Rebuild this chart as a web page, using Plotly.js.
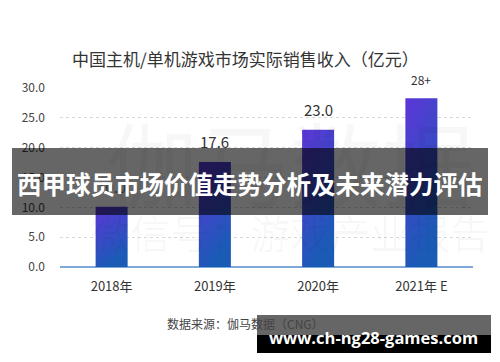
<!DOCTYPE html>
<html>
<head>
<meta charset="utf-8">
<script src="https://cdn.plot.ly/plotly-3.0.1.min.js"></script>
<style>
html,body{margin:0;padding:0;background:#fff;}
#chart{width:500px;height:362px;}
</style>
</head>
<body>
<div id="chart"></div>
<script>
var categories = ["2018年", "2019年", "2020年", "2021年 E"];
var values = [10.1, 17.6, 23.0, 28.3];
var valueLabels = ["10.0", "17.6", "23.0", "28+"];
var labelSizes = [15, 15, 15, 12];
var yTicks = [0, 5, 10, 15, 20, 25, 30];
var yTickText = ["0.0", "5.0", "10.0", "15.0", "20.0", "25.0", "30.0"];

var FONT = '"Noto Sans CJK SC", "Noto Sans", sans-serif';

var trace = {
  type: 'bar',
  x: categories,
  y: values,
  marker: {color: '#3f48c8', line: {width: 0}},
  hoverinfo: 'none'
};

var annotations = categories.map(function (c, i) {
  return {
    x: c, y: values[i], xref: 'x', yref: 'y',
    text: valueLabels[i], showarrow: false,
    xanchor: 'center', yanchor: 'bottom', yshift: 8,
    font: {family: FONT, size: labelSizes[i], color: '#333'}
  };
});

var L = 60, R = 27, T = 88, B = 95, W = 500, H = 362;
var pw = W - L - R, ph = H - T - B;
function px(x) { return (x - L) / pw; }
function py(y) { return (H - B - y) / ph; }

function paperText(x, y, text, font) {
  return {
    xref: 'paper', yref: 'paper', x: px(x), y: py(y), text: text,
    showarrow: false, xanchor: 'center', yanchor: 'middle', font: font
  };
}

// faint background watermark
annotations.push(paperText(290, 160, '伽马数据', {family: FONT, size: 92, color: 'rgba(0,0,0,0.03)'}));
annotations.push(paperText(290, 232, '微信号：游戏产业报告', {family: FONT, size: 40, color: 'rgba(0,0,0,0.03)'}));
// title
annotations.push(paperText(245, 58, '中国主机/单机游戏市场实际销售收入（亿元）', {family: FONT, size: 17, color: '#333'}));
// source
annotations.push(paperText(245, 323, '数据来源：伽马数据（CNG）', {family: FONT, size: 12, color: '#444'}));
// banner text
annotations.push(paperText(250, 183, '<b>西甲球员市场价值走势分析及未来潜力评估</b>', {family: FONT, size: 24.5, color: '#ffffff'}));
// url text
annotations.push(paperText(373, 337, '<b>www.ch-ng28-games.com</b>', {family: '"Open Sans", "DejaVu Sans", sans-serif', size: 16.5, color: '#ffffff'}));

var shapes = [
  {type: 'rect', xref: 'paper', yref: 'paper', x0: px(12), x1: px(488), y0: py(148), y1: py(215),
   fillcolor: 'rgba(0,0,0,0.6)', line: {width: 0}, layer: 'above'},
  {type: 'rect', xref: 'paper', yref: 'paper', x0: px(257), x1: px(491), y0: py(315), y1: py(335),
   fillcolor: 'rgba(0,0,0,0.6)', line: {width: 0}, layer: 'above'},
  {type: 'rect', xref: 'paper', yref: 'paper', x0: px(257), x1: px(491), y0: py(335), y1: py(353),
   fillcolor: '#000000', line: {width: 0}, layer: 'above'}
];

var layout = {
  width: W, height: H,
  margin: {l: L, r: R, t: T, b: B},
  paper_bgcolor: '#ffffff', plot_bgcolor: '#ffffff',
  showlegend: false,
  bargap: 0.69,
  font: {family: FONT, color: '#444'},
  xaxis: {
    type: 'category',
    tickfont: {family: FONT, size: 13, color: '#333'},
    showgrid: false, showline: false, ticks: '',
    ticklabelstandoff: 10
  },
  yaxis: {
    range: [0, 30],
    tickvals: yTicks, ticktext: yTickText,
    tickfont: {family: FONT, size: 12, color: '#444'},
    showgrid: true, gridcolor: '#d8d8d8', griddash: 'dot', gridwidth: 1,
    zeroline: true, zerolinecolor: '#7ea8da', zerolinewidth: 1.5,
    showline: false, ticks: '',
    ticklabelstandoff: 14
  },
  annotations: annotations,
  shapes: shapes
};

Plotly.newPlot('chart', [trace], layout, {displayModeBar: false, staticPlot: true}).then(function (gd) {
  var svg = gd.querySelector('svg.main-svg');
  var ns = 'http://www.w3.org/2000/svg';
  var defs = svg.querySelector('defs') || svg.insertBefore(document.createElementNS(ns, 'defs'), svg.firstChild);
  var grad = document.createElementNS(ns, 'linearGradient');
  grad.setAttribute('id', 'barGrad');
  grad.setAttribute('x1', '0'); grad.setAttribute('y1', '0');
  grad.setAttribute('x2', '0.35'); grad.setAttribute('y2', '1');
  [['0', '#5d36d8'], ['1', '#1a5bb6']].forEach(function (s) {
    var st = document.createElementNS(ns, 'stop');
    st.setAttribute('offset', s[0]);
    st.setAttribute('stop-color', s[1]);
    grad.appendChild(st);
  });
  defs.appendChild(grad);
  gd.querySelectorAll('.bars .point path').forEach(function (p) {
    p.style.fill = 'url(#barGrad)';
  });
});
</script>
</body>
</html>
